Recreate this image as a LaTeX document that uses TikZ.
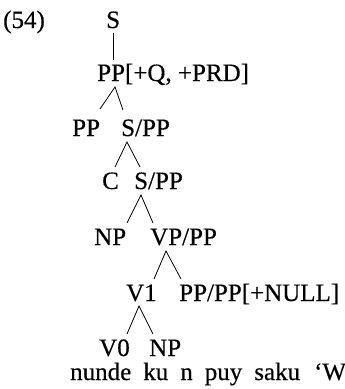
\documentclass[tikz,border=0pt]{standalone}
\usepackage{fontspec}
\setmainfont[FakeBold=0.4]{Liberation Serif}
\usetikzlibrary{calc}
\begin{document}
\begin{tikzpicture}[x=1pt,y=-1pt,
  lab/.style={anchor=base west,inner sep=0pt,font=\fontsize{25}{30}\selectfont},
  br/.style={line width=0.8pt}]
\useasboundingbox (0,0) rectangle (345,389);
\node[lab] (ex) at (3,28) {(54)};
\node[lab] (s0) at (106,28) {S};
\node[lab] (pp1) at (97,81) {PP[+Q, +PRD]};
\node[lab] (pp2) at (72,136) {PP};
\node[lab] (sp2) at (121,136) {S/PP};
\node[lab] (c3) at (102,189) {C};
\node[lab] (sp3) at (134,189) {S/PP};
\node[lab] (np4) at (94,245) {NP};
\node[lab] (vp4) at (150,245) {VP/PP};
\node[lab] (v15) at (126,301) {V1};
\node[lab] (pp5) at (179,301) {PP/PP[+NULL]};
\node[lab] (v06) at (99,356) {V0};
\node[lab] (np6) at (149,356) {NP};
\node[lab] (gl) at (70,380) {\spaceskip=12pt\relax nunde ku n puy saku \hspace{2pt}‘Wh};
\draw[br] ($(s0.base west)+(7,5)$) -- ($(pp1.base west)+(16,-21)$);
\draw[br] ($(pp2.base west)+(28,-27)$) -- ($(pp1.base west)+(18,6)$) -- ($(sp2.base west)+(2,-26)$);
\draw[br] ($(c3.base west)+(13,-22)$) -- ($(sp2.base west)+(6,6)$) -- ($(sp3.base west)+(6,-22)$);
\draw[br] ($(np4.base west)+(33,-22)$) -- ($(sp3.base west)+(7,6)$) -- ($(vp4.base west)+(3,-22)$);
\draw[br] ($(v15.base west)+(28,-22)$) -- ($(vp4.base west)+(16,6)$) -- ($(pp5.base west)+(2,-22)$);
\draw[br] ($(v06.base west)+(28,-22)$) -- ($(v15.base west)+(13,5)$) -- ($(np6.base west)+(4,-22)$);
\end{tikzpicture}
\end{document}
